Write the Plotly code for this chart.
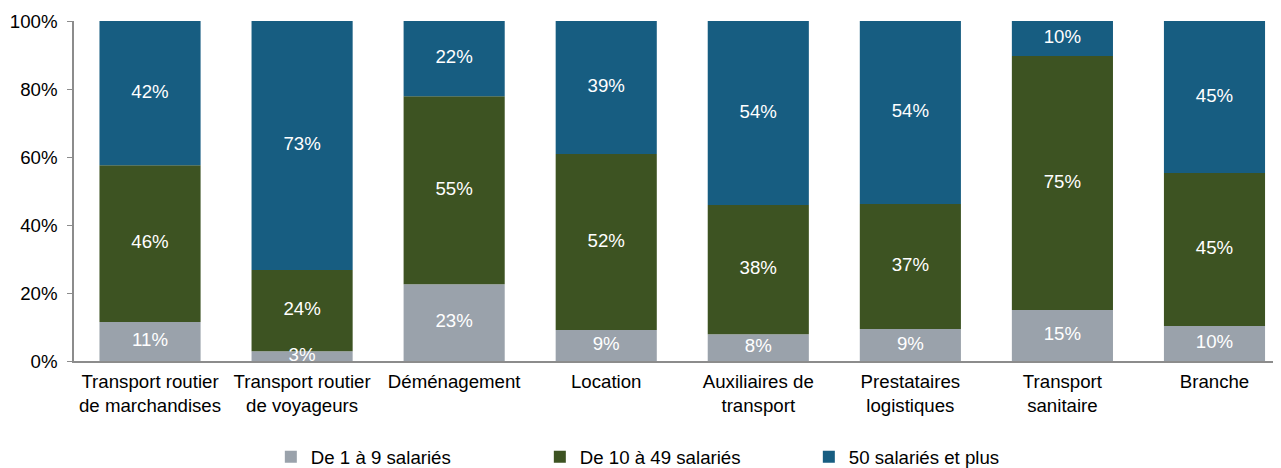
import plotly.graph_objects as go

categories = ["Transport routier<br>de marchandises", "Transport routier<br>de voyageurs", "Déménagement",
              "Location", "Auxiliaires de<br>transport", "Prestataires<br>logistiques",
              "Transport<br>sanitaire", "Branche"]
small = [11.5, 2.9, 22.6, 9.1, 7.9, 9.4, 15.0, 10.3]
medium = [46.1, 23.9, 55.3, 51.8, 38.0, 36.8, 74.7, 45.0]
large = [42.4, 73.2, 22.1, 39.1, 54.1, 53.8, 10.3, 44.7]
small_lbl = ["11%", "3%", "23%", "9%", "8%", "9%", "15%", "10%"]
medium_lbl = ["46%", "24%", "55%", "52%", "38%", "37%", "75%", "45%"]
large_lbl = ["42%", "73%", "22%", "39%", "54%", "54%", "10%", "45%"]
series_names = ["De 1 à 9 salariés", "De 10 à 49 salariés", "50 salariés et plus"]
colors = ["#9AA2AB", "#3D5322", "#175D81"]
y_ticks = [0, 20, 40, 60, 80, 100]
y_tick_text = ["0%", "20%", "40%", "60%", "80%", "100%"]

font = "Liberation Sans, Arial, sans-serif"
fs = 18.67
x = list(range(len(categories)))
fig = go.Figure()
series = [small, medium, large]
labels = [small_lbl, medium_lbl, large_lbl]
base = [0.0] * len(x)
for vals, lbls, name, col in zip(series, labels, series_names, colors):
    fig.add_trace(go.Bar(x=x, y=vals, base=base, name=name, marker=dict(color=col, line=dict(width=0)),
                         width=0.665))
    mids = [b + v / 2 for b, v in zip(base, vals)]
    fig.add_trace(go.Scatter(x=x, y=mids, mode="text", text=lbls, showlegend=False,
                             textfont=dict(color="white", size=fs, family=font), cliponaxis=False,
                             hoverinfo="skip"))
    base = [b + v for b, v in zip(base, vals)]

fig.update_layout(
    width=1281, height=468,
    margin=dict(l=66, r=0, t=13, b=115, autoexpand=False),
    plot_bgcolor="white", paper_bgcolor="white",
    barmode="overlay",
    font=dict(family=font, size=fs, color="black"),
    showlegend=True,
    legend=dict(orientation="h", x=0.162, xanchor="left", y=-0.227, yanchor="top",
                entrywidth=224, entrywidthmode="pixels", itemwidth=30,
                font=dict(size=fs, family=font, color="black")),
    xaxis=dict(tickmode="array", tickvals=x, ticktext=categories, range=[-0.5, 7.49],
               showline=True, linecolor="#8C8C8C", linewidth=1.5, ticks="", showgrid=False,
               zeroline=False, tickfont=dict(size=fs), ticklabelstandoff=3),
    yaxis=dict(range=[0, 100], tickmode="array", tickvals=y_ticks, ticktext=y_tick_text,
               showline=True, linecolor="#8C8C8C", linewidth=1.5, ticks="outside", ticklen=5,
               tickcolor="#8C8C8C", showgrid=False, zeroline=False, tickfont=dict(size=fs),
               ticklabelstandoff=6),
)
fig.write_html("out.html")
